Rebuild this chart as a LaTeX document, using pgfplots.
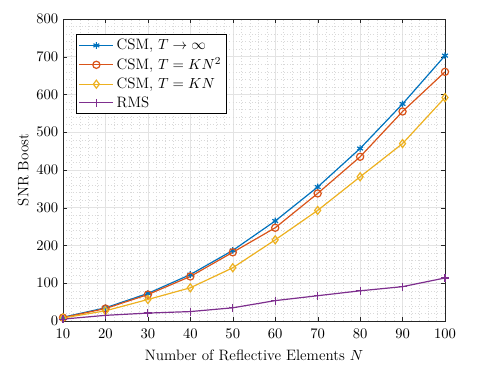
\documentclass[border=0pt]{standalone}
\usepackage{pgfplots}
\pgfplotsset{compat=1.18}
\definecolor{mblue}{rgb}{0,0.447,0.741}
\definecolor{mred}{rgb}{0.85,0.325,0.098}
\definecolor{myel}{rgb}{0.929,0.694,0.125}
\definecolor{mpur}{rgb}{0.494,0.184,0.556}
\definecolor{maxis}{rgb}{0.15,0.15,0.15}
\begin{document}
\begin{tikzpicture}
\begin{axis}[
  scale only axis,
  width=286.5pt, height=226.5pt,
  xmin=10, xmax=100, ymin=0, ymax=800,
  xtick={10,20,...,100}, ytick={0,100,...,800},
  minor x tick num=4, minor y tick num=4,
  grid=both,
  major grid style={gray!22, line width=0.4pt},
  minor grid style={gray!30, dotted, line width=0.35pt},
  axis line style={maxis},
  tick style={maxis},
  tick align=inside,
  minor tick length=0pt,
  major tick length=3pt,
  tick label style={font=\fontsize{11.3}{13}\selectfont},
  xticklabel style={yshift=-2.5pt},
  label style={font=\fontsize{11.3}{13}\selectfont},
  xlabel={Number of Reflective Elements $N$},
  ylabel={SNR Boost},
  xlabel style={yshift=-2pt},
  ylabel style={yshift=-1pt},
  legend style={draw=black, line width=0.5pt, font=\fontsize{11.3}{13}\selectfont, row sep=0.5pt, at={(0.035,0.95)}, anchor=north west, inner sep=1.5pt},
  legend image code/.code={\draw[mark repeat=2,mark phase=2] plot coordinates {(0cm,0cm) (0.45cm,0cm) (0.9cm,0cm)};},
  legend cell align=left,
  every axis plot/.append style={line width=0.9pt},
]
\addplot[color=mblue, mark=asterisk, mark size=2.5pt] coordinates {
(10,10) (20,35) (30,73) (40,123) (50,187) (60,265) (70,355) (80,457) (90,575) (100,703)};
\addlegendentry{CSM, $T\rightarrow\infty$}
\addplot[color=mred, mark=o, mark size=2.7pt] coordinates {
(10,9) (20,33) (30,70) (40,118) (50,182) (60,247) (70,338) (80,435) (90,555) (100,660)};
\addlegendentry{CSM, $T=KN^2$}
\addplot[color=myel, mark=diamond, mark size=3pt] coordinates {
(10,8) (20,27) (30,57) (40,88) (50,141) (60,215) (70,293) (80,382) (90,470) (100,592)};
\addlegendentry{CSM, $T=KN$}
\addplot[color=mpur, mark=+, mark size=3pt] coordinates {
(10,5) (20,15) (30,21) (40,25) (50,35) (60,54) (70,67) (80,80) (90,91) (100,114)};
\addlegendentry{RMS}
\end{axis}
\path[use as bounding box] (current axis.south west) ++(-47.25pt,-35.25pt) rectangle ++(368.25pt,276pt);
\end{tikzpicture}
\end{document}
